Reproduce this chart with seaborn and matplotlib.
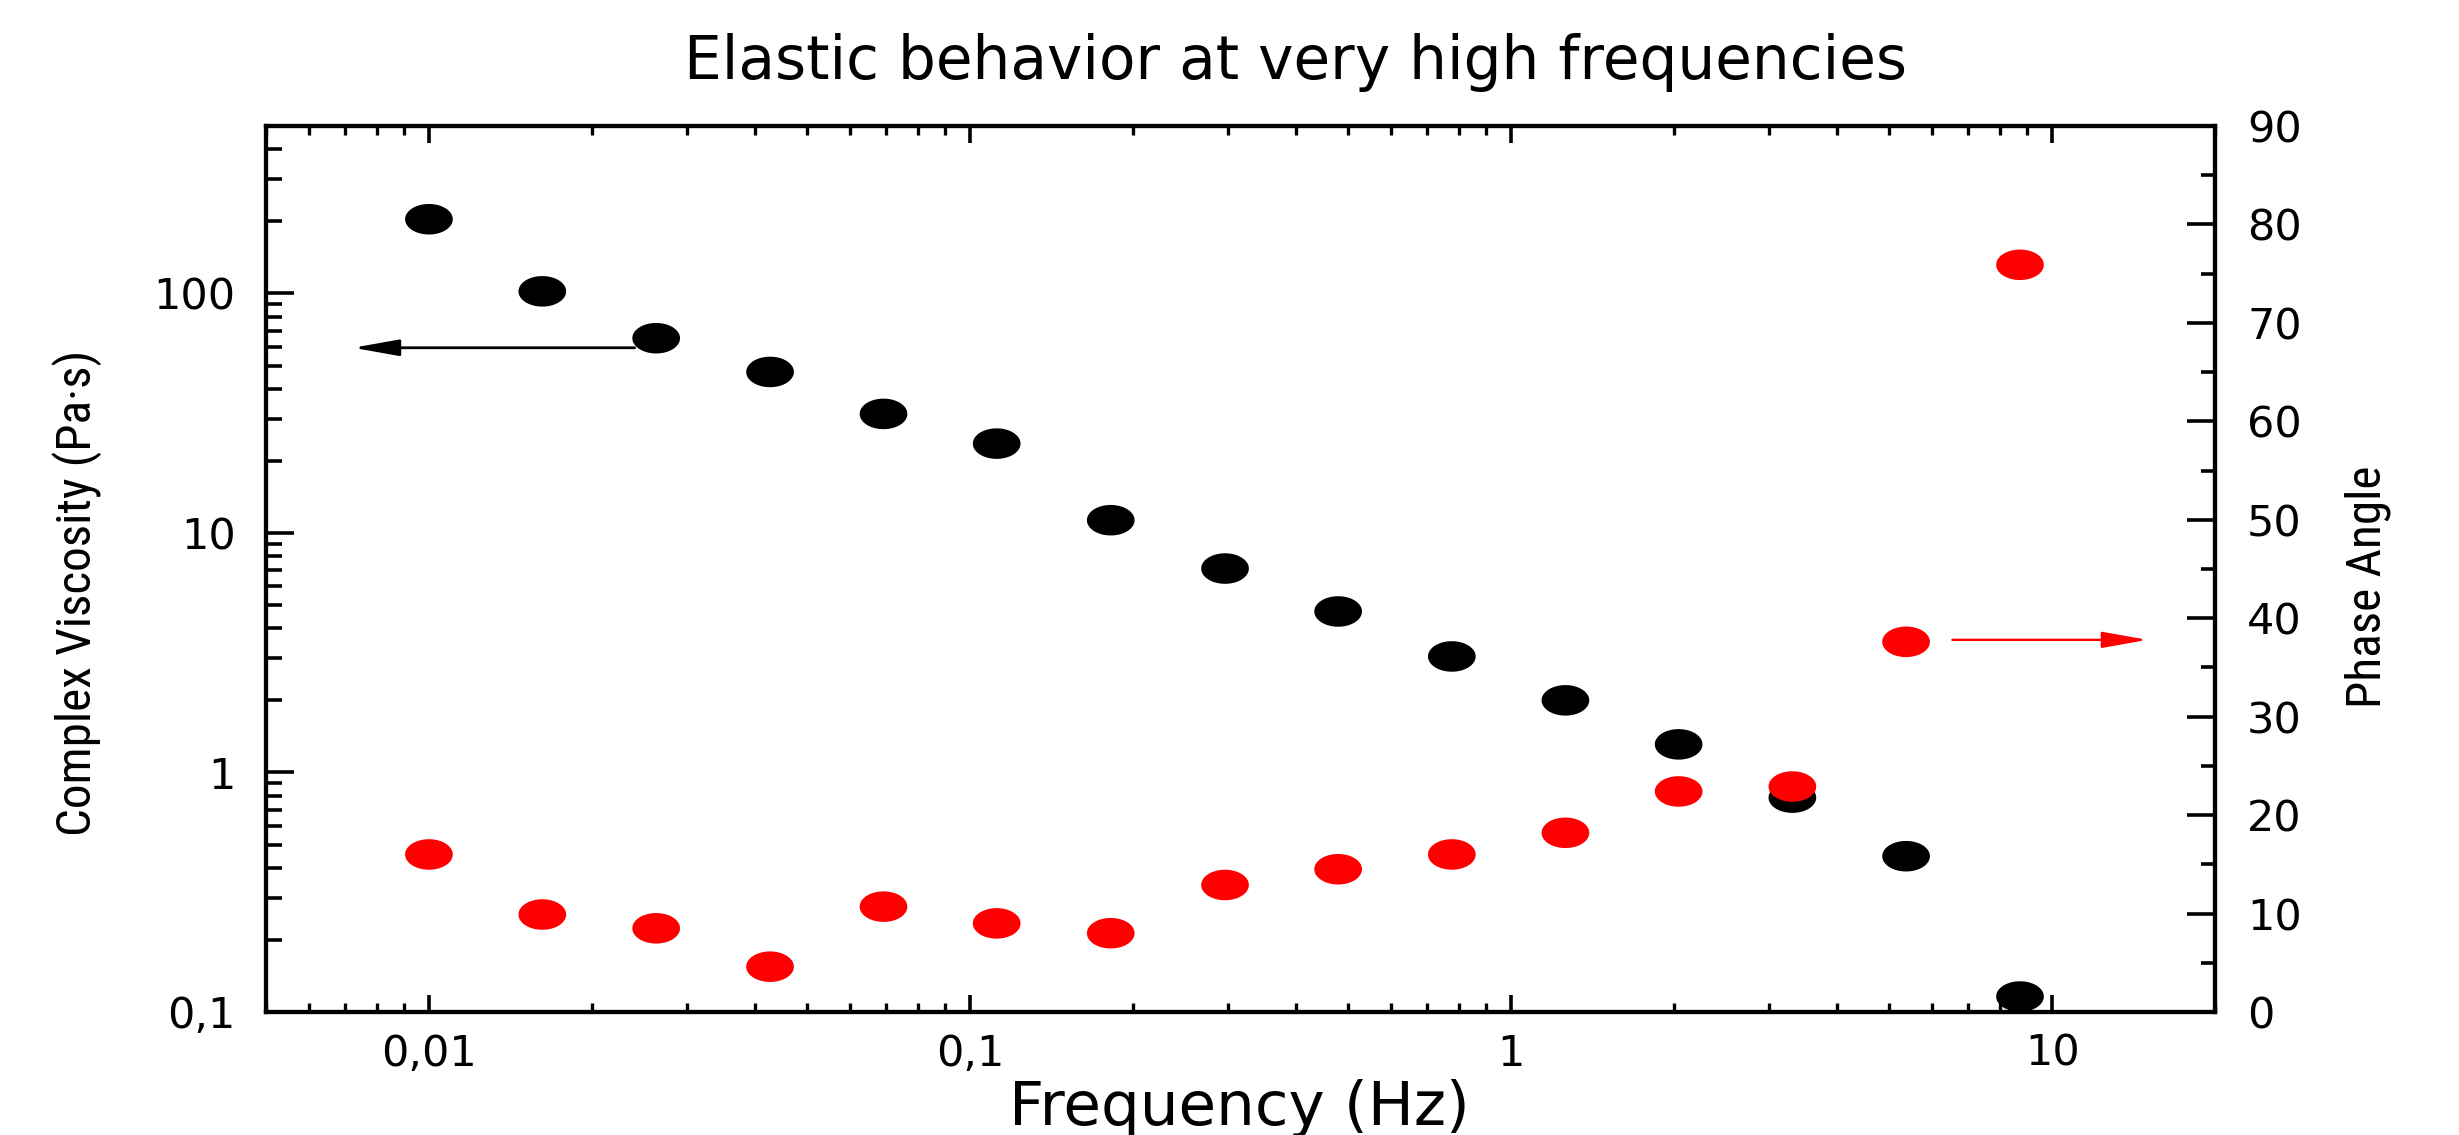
import numpy as np
import pandas as pd
import matplotlib
matplotlib.use("Agg")
import matplotlib.pyplot as plt
from matplotlib.path import Path
from matplotlib.markers import MarkerStyle
from matplotlib.ticker import FixedLocator, FixedFormatter, LogLocator, MultipleLocator, NullFormatter
import seaborn as sns

# ---------------- data ----------------
frequency_hz = [0.01, 0.0162, 0.0263, 0.0427, 0.0692, 0.112, 0.182, 0.296,
                0.479, 0.777, 1.26, 2.04, 3.31, 5.37, 8.72]
complex_viscosity = [204, 102, 65, 47, 31.4, 23.6, 11.3, 7.1, 4.7, 3.05,
                     2.0, 1.31, 0.785, 0.447, 0.116]
phase_angle = [16.0, 9.9, 8.5, 4.6, 10.7, 9.0, 8.0, 12.9, 14.5, 16.0,
               18.2, 22.4, 22.9, 37.6, 75.9]

x_ticks = [0.01, 0.1, 1, 10]
x_tick_labels = ["0,01", "0,1", "1", "10"]
y_ticks = [0.1, 1, 10, 100]
y_tick_labels = ["0,1", "1", "10", "100"]
phase_ticks = [0, 10, 20, 30, 40, 50, 60, 70, 80, 90]
phase_tick_labels = ["0", "10", "20", "30", "40", "50", "60", "70", "80", "90"]

title_text = "Elastic behavior at very high frequencies"
x_label = "Frequency (Hz)"
y_label_left = "Complex Viscosity (Pa\u00b7s)"
y_label_right = "Phase Angle"

df = pd.DataFrame({"freq": frequency_hz, "visc": complex_viscosity, "phase": phase_angle})

# ---------------- style ----------------
sns.set_style("white")
plt.rcParams["font.family"] = ["DejaVu Sans"]
plt.rcParams["text.color"] = "black"
plt.rcParams["xtick.color"] = "black"
plt.rcParams["ytick.color"] = "black"
plt.rcParams["axes.labelcolor"] = "black"
plt.rcParams["axes.edgecolor"] = "black"
plt.rcParams["axes.linewidth"] = 3
plt.rcParams["xtick.direction"] = "in"
plt.rcParams["ytick.direction"] = "in"
plt.rcParams["xtick.major.pad"] = 15

TICK_FS = 31

fig = plt.figure(figsize=(24.59, 11.35), dpi=100)
ax = fig.add_axes([0.1082, 0.1084, 0.7926, 0.7806])

theta = np.linspace(0, 2 * np.pi, 80)
ellipse = MarkerStyle(Path(np.column_stack([np.cos(theta), 0.64 * np.sin(theta)]), closed=True))
msize = 1180

sns.scatterplot(data=df, x="freq", y="visc", ax=ax, color="black",
                marker=ellipse, s=msize, linewidth=0, edgecolor="none", legend=False)
ax.set_xscale("log")
ax.set_yscale("log")
ax.set_xlim(0.005, 20)
ax.set_ylim(0.1, 500)

ax2 = ax.twinx()
sns.scatterplot(data=df, x="freq", y="phase", ax=ax2, color="#ff0000",
                marker=ellipse, s=msize, linewidth=0, edgecolor="none", legend=False)
ax2.set_ylim(0, 90)
ax2.set_xlim(0.005, 20)

for a in (ax, ax2):
    a.set_xlabel("")
    a.set_ylabel("")
    for sp in a.spines.values():
        sp.set_linewidth(3)
        sp.set_color("black")
        sp.set_visible(True)
    a.grid(False)

# x ticks
ax.xaxis.set_major_locator(FixedLocator(x_ticks))
ax.xaxis.set_major_formatter(FixedFormatter(x_tick_labels))
ax.xaxis.set_minor_locator(LogLocator(base=10, subs=np.arange(2, 10), numticks=20))
ax.xaxis.set_minor_formatter(NullFormatter())
ax.tick_params(axis="x", which="major", direction="in", length=12.5, width=2.6,
               top=True, bottom=True, labelsize=TICK_FS, pad=15, colors="black")
ax.tick_params(axis="x", which="minor", direction="in", length=6.5, width=2.4,
               top=True, bottom=True)

# left y ticks
ax.yaxis.set_major_locator(FixedLocator(y_ticks))
ax.yaxis.set_major_formatter(FixedFormatter(y_tick_labels))
ax.yaxis.set_minor_locator(LogLocator(base=10, subs=np.arange(2, 10), numticks=20))
ax.yaxis.set_minor_formatter(NullFormatter())
ax.tick_params(axis="y", which="major", direction="in", length=20.5, width=2.6,
               left=True, right=False, labelsize=TICK_FS, pad=22, colors="black")
ax.tick_params(axis="y", which="minor", direction="in", length=11.5, width=2.6,
               left=True, right=False)

# right y ticks
ax2.yaxis.set_major_locator(FixedLocator(phase_ticks))
ax2.yaxis.set_major_formatter(FixedFormatter(phase_tick_labels))
ax2.yaxis.set_minor_locator(MultipleLocator(5))
ax2.tick_params(axis="y", which="major", direction="in", length=20, width=2.6,
                right=True, left=False, labelright=True, labelleft=False,
                labelsize=TICK_FS, pad=23, colors="black")
ax2.tick_params(axis="y", which="minor", direction="in", length=10, width=2.6,
                right=True, left=False)

# arrows pointing to the axes
ax.annotate("", xy=(0.00724, 59.3), xytext=(0.0240, 59.3),
            arrowprops=dict(arrowstyle="-|>,head_length=1.4,head_width=0.25",
                            color="black", lw=2.0, shrinkA=0, shrinkB=0,
                            mutation_scale=20))
ax2.annotate("", xy=(15.0, 37.8), xytext=(6.54, 37.8),
             arrowprops=dict(arrowstyle="-|>,head_length=1.4,head_width=0.25",
                             color="#ff0000", lw=1.7, shrinkA=0, shrinkB=0,
                             mutation_scale=20))

# texts
fig.text(0.527, 0.930, title_text, ha="center", va="baseline", fontsize=43)
fig.text(0.504, 0.009, x_label, ha="center", va="baseline", fontsize=44)
label_font = ["Liberation Sans Narrow", "Roboto Condensed", "Liberation Sans", "DejaVu Sans"]
fig.text(0.0313, 0.478, y_label_left, rotation=90, ha="center", va="center",
         fontsize=35.5, family=label_font)
fig.text(0.963, 0.483, y_label_right, rotation=90, ha="center", va="center",
         fontsize=35.5, family=label_font)

fig.savefig("out.png", dpi=100, facecolor="white")
